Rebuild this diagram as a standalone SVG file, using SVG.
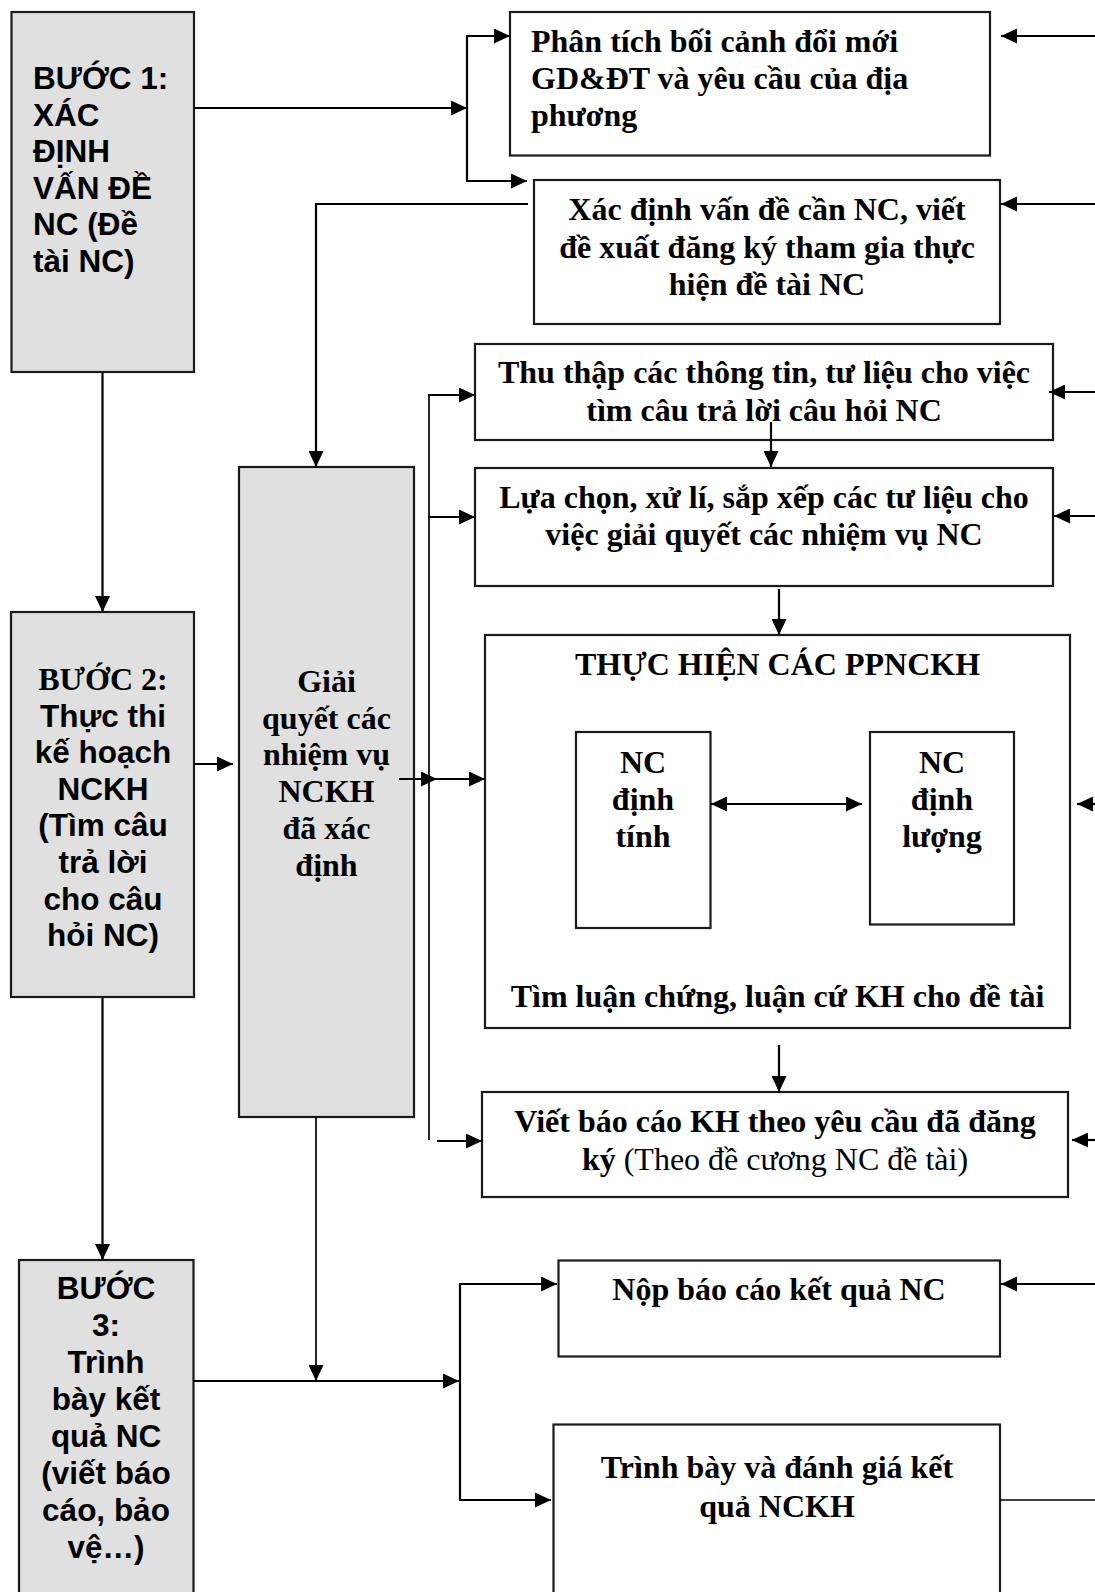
<svg xmlns="http://www.w3.org/2000/svg" width="1095" height="1592" viewBox="0 0 1095 1592">
<style>
.box{fill:#ffffff;stroke:#1a1a1a;stroke-width:2.2}
.gbox{fill:#e0e0e0;stroke:#1a1a1a;stroke-width:2.2}
.ln{fill:none;stroke:#000;stroke-width:2.2}
.thin{fill:none;stroke:#000;stroke-width:1.7}
.sans{font-family:"Liberation Sans",Arial,sans-serif;font-weight:bold;font-size:31.5px;fill:#000}
.serif{font-family:"Liberation Serif","Times New Roman",serif;font-weight:bold;font-size:32px;fill:#000}
.reg{font-weight:normal}
.mid{text-anchor:middle}
</style>
<defs>
<marker id="ah" markerUnits="userSpaceOnUse" markerWidth="16" markerHeight="15" refX="16" refY="7.5" orient="auto-start-reverse">
<path d="M0,0 L16,7.5 L0,15 z" fill="#000"/>
</marker>
</defs>

<g id="step1">
<rect class="gbox" x="11.5" y="12" width="182.5" height="360"/>
<text class="sans" x="33"><tspan x="33" y="89.3">BƯỚC 1:</tspan><tspan x="33" y="125.8">XÁC</tspan><tspan x="33" y="162.3">ĐỊNH</tspan><tspan x="33" y="198.8">VẤN ĐỀ</tspan><tspan x="33" y="235.3">NC (Đề</tspan><tspan x="33" y="271.8">tài NC)</tspan></text>
</g>

<g id="step2">
<rect class="gbox" x="11" y="612" width="183" height="385"/>
<text class="serif mid" x="103" y="690">BƯỚC 2:</text>
<text class="sans mid"><tspan x="103" y="726.6">Thực thi</tspan><tspan x="103" y="763.2">kế hoạch</tspan><tspan x="103" y="799.8">NCKH</tspan><tspan x="103" y="836.4">(Tìm câu</tspan><tspan x="103" y="873">trả lời</tspan><tspan x="103" y="909.6">cho câu</tspan><tspan x="103" y="946.2">hỏi NC)</tspan></text>
</g>

<g id="step3">
<rect class="gbox" x="19" y="1260" width="174.5" height="345"/>
<text class="sans mid"><tspan x="106" y="1299">BƯỚC</tspan><tspan x="106" y="1336">3:</tspan><tspan x="106" y="1373">Trình</tspan><tspan x="106" y="1410">bày kết</tspan><tspan x="106" y="1447">quả NC</tspan><tspan x="106" y="1484">(viết báo</tspan><tspan x="106" y="1521">cáo, bảo</tspan><tspan x="106" y="1558">vệ…)</tspan></text>
</g>

<g id="giai-quyet">
<rect class="gbox" x="239" y="467" width="175" height="650"/>
<text class="serif mid"><tspan x="326.5" y="691.7">Giải</tspan><tspan x="326.5" y="728.5">quyết các</tspan><tspan x="326.5" y="765.3">nhiệm vụ</tspan><tspan x="326.5" y="802">NCKH</tspan><tspan x="326.5" y="839">đã xác</tspan><tspan x="326.5" y="876">định</tspan></text>
</g>

<g id="phan-tich">
<rect class="box" x="510" y="12" width="480" height="143.5"/>
<text class="serif"><tspan x="531" y="52.3">Phân tích bối cảnh đổi mới</tspan><tspan x="531" y="89.3">GD&amp;ĐT và yêu cầu của địa</tspan><tspan x="531" y="126.3">phương</tspan></text>
</g>

<g id="xac-dinh">
<rect class="box" x="534" y="180" width="466" height="144"/>
<text class="serif mid"><tspan x="767" y="220">Xác định vấn đề cần NC, viết</tspan><tspan x="767" y="257.5">đề xuất đăng ký tham gia thực</tspan><tspan x="767" y="295">hiện đề tài NC</tspan></text>
</g>

<g id="thu-thap">
<rect class="box" x="475" y="344" width="578" height="96"/>
<text class="serif mid"><tspan x="764" y="383.3">Thu thập các thông tin, tư liệu cho việc</tspan><tspan x="764" y="421">tìm câu trả lời câu hỏi NC</tspan></text>
</g>

<g id="lua-chon">
<rect class="box" x="475" y="468" width="578" height="118"/>
<text class="serif mid"><tspan x="764" y="508.3">Lựa chọn, xử lí, sắp xếp các tư liệu cho</tspan><tspan x="764" y="545">việc giải quyết các nhiệm vụ NC</tspan></text>
</g>

<g id="thuc-hien">
<rect class="box" x="485" y="635" width="585" height="393"/>
<text class="serif mid" x="777.5" y="675">THỰC HIỆN CÁC PPNCKH</text>
<text class="serif mid" x="777.5" y="1006.7">Tìm luận chứng, luận cứ KH cho đề tài</text>
</g>

<g id="dinh-tinh">
<rect class="box" x="576" y="732" width="134.5" height="196"/>
<text class="serif mid"><tspan x="643" y="772.7">NC</tspan><tspan x="643" y="810">định</tspan><tspan x="643" y="846.7">tính</tspan></text>
</g>

<g id="dinh-luong">
<rect class="box" x="870" y="732" width="144" height="192.5"/>
<text class="serif mid"><tspan x="942" y="772.7">NC</tspan><tspan x="942" y="810">định</tspan><tspan x="942" y="846.7">lượng</tspan></text>
</g>

<g id="viet-bao-cao">
<rect class="box" x="482" y="1092" width="586" height="105"/>
<text class="serif mid" x="775" y="1131.7">Viết báo cáo KH theo yêu cầu đã đăng</text>
<text class="serif mid" x="775" y="1170">ký<tspan class="reg"> (Theo đề cương NC đề tài)</tspan></text>
</g>

<g id="nop-bao-cao">
<rect class="box" x="558.5" y="1260.5" width="441.5" height="96"/>
<text class="serif mid" x="779" y="1300">Nộp báo cáo kết quả NC</text>
</g>

<g id="trinh-bay">
<rect class="box" x="553.5" y="1424.5" width="446.5" height="185"/>
<text class="serif mid"><tspan x="777" y="1478.3">Trình bày và đánh giá kết</tspan><tspan x="777" y="1516.7">quả NCKH</tspan></text>
</g>

<g id="connectors">
<line class="ln" x1="194" y1="108" x2="467" y2="108" marker-end="url(#ah)"/>
<line class="ln" x1="467" y1="36" x2="467" y2="181"/>
<line class="ln" x1="466" y1="36" x2="510" y2="36" marker-end="url(#ah)"/>
<line class="ln" x1="466" y1="181" x2="527" y2="181" marker-end="url(#ah)"/>
<polyline class="ln" points="528,204 316,204 316,467" marker-end="url(#ah)"/>
<line class="ln" x1="102.5" y1="372" x2="102.5" y2="612" marker-end="url(#ah)"/>
<line class="ln" x1="102.5" y1="997" x2="102.5" y2="1260" marker-end="url(#ah)"/>
<line class="ln" x1="194" y1="764" x2="233" y2="764" marker-end="url(#ah)"/>
<line class="thin" x1="429" y1="395" x2="429" y2="1140"/>
<line class="ln" x1="428" y1="395" x2="475" y2="395" marker-end="url(#ah)"/>
<line class="ln" x1="428" y1="517" x2="475" y2="517" marker-end="url(#ah)"/>
<line class="ln" x1="399" y1="779" x2="437" y2="779" marker-end="url(#ah)"/>
<line class="ln" x1="429" y1="779" x2="485" y2="779" marker-end="url(#ah)"/>
<line class="ln" x1="437" y1="1141" x2="482" y2="1141" marker-end="url(#ah)"/>
<line class="ln" x1="771" y1="422" x2="771" y2="467" marker-end="url(#ah)"/>
<line class="ln" x1="779" y1="589" x2="779" y2="635" marker-end="url(#ah)"/>
<line class="ln" x1="779" y1="1045" x2="779" y2="1092" marker-end="url(#ah)"/>
<line class="ln" x1="711" y1="804" x2="862" y2="804" marker-start="url(#ah)" marker-end="url(#ah)"/>
<line class="ln" x1="1095" y1="36" x2="1001" y2="36" marker-end="url(#ah)"/>
<line class="ln" x1="1095" y1="204" x2="1001" y2="204" marker-end="url(#ah)"/>
<line class="ln" x1="1095" y1="392" x2="1049" y2="392" marker-end="url(#ah)"/>
<line class="ln" x1="1095" y1="516" x2="1054" y2="516" marker-end="url(#ah)"/>
<line class="ln" x1="1095" y1="804" x2="1077" y2="804" marker-end="url(#ah)"/>
<line class="ln" x1="1095" y1="1140" x2="1072" y2="1140" marker-end="url(#ah)"/>
<line class="ln" x1="1095" y1="1284" x2="1001" y2="1284" marker-end="url(#ah)"/>
<line class="thin" x1="1000" y1="1500" x2="1095" y2="1500"/>
<line class="thin" x1="316" y1="1117" x2="316" y2="1381" marker-end="url(#ah)"/>
<line class="ln" x1="193.5" y1="1381" x2="459" y2="1381" marker-end="url(#ah)"/>
<line class="ln" x1="460" y1="1284" x2="460" y2="1500"/>
<line class="ln" x1="459" y1="1284" x2="557" y2="1284" marker-end="url(#ah)"/>
<line class="ln" x1="459" y1="1500" x2="551" y2="1500" marker-end="url(#ah)"/>
</g>
</svg>
